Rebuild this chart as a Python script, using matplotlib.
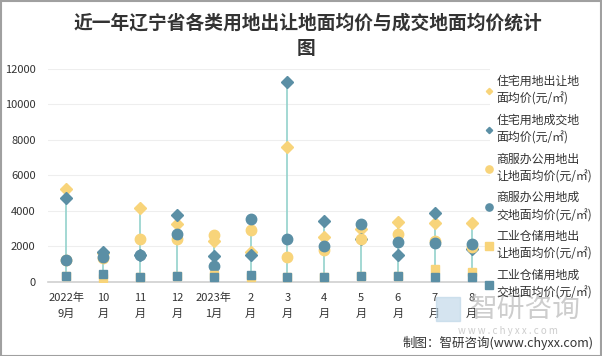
import matplotlib
matplotlib.use("Agg")
import matplotlib.pyplot as plt
from matplotlib.lines import Line2D
import numpy as np

plt.rcParams['font.family'] = ['Noto Sans CJK SC', 'DejaVu Sans']

categories = ["2022年\n9月", "10\n月", "11\n月", "12\n月", "2023年\n1月", "2\n月", "3\n月",
              "4\n月", "5\n月", "6\n月", "7\n月", "8\n月"]

res_transfer = [5250, 1600, 4180, 3260, 2300, 1660, 7610, 2540, 2980, 3370, 3320, 3320]
res_deal = [4730, 1700, 1480, 3790, 1470, 1520, 11280, 3430, 2400, 1520, 3880, 1860]
com_transfer = [1200, 1320, 2400, 2430, 2620, 2900, 1380, 1810, 2400, 2680, 2300, 1960]
com_deal = [1210, 1410, 1490, 2710, 900, 3520, 2430, 2030, 3240, 2260, 2170, 2130]
ind_transfer = [300, 200, 260, 300, 380, 250, 250, 240, 320, 300, 730, 530]
ind_deal = [320, 450, 280, 320, 280, 380, 265, 265, 340, 320, 265, 280]

labels = ["住宅用地出让地\n面均价(元/㎡)", "住宅用地成交地\n面均价(元/㎡)",
          "商服办公用地出\n让地面均价(元/㎡)", "商服办公用地成\n交地面均价(元/㎡)",
          "工业仓储用地出\n让地面均价(元/㎡)", "工业仓储用地成\n交地面均价(元/㎡)"]

YEL = '#f8d47a'
BLU = '#5b8fa5'
LINE = '#93d2cc'

fig = plt.figure(figsize=(6.02, 3.56), dpi=100)
ax = fig.add_axes([48/602, 1-281.7/356, (490-48)/602, (281.7-69)/356])

x = np.arange(len(categories))
allv = np.array([res_transfer, res_deal, com_transfer, com_deal, ind_transfer, ind_deal])
ax.vlines(x, allv.min(axis=0), allv.max(axis=0), color=LINE, lw=1.2, zorder=1)

series = [
    (res_transfer, YEL, 'D', 6),
    (res_deal, BLU, 'D', 6),
    (com_transfer, YEL, 'o', 7.5),
    (com_deal, BLU, 'o', 7.5),
    (ind_transfer, YEL, 's', 6.2),
    (ind_deal, BLU, 's', 6.2),
]
handles = []
for (vals, c, m, s), lab in zip(series, labels):
    ax.plot(x, vals, linestyle='none', marker=m, ms=s, color=c, mec=c, zorder=3)
    hs = {'D': 3.2, 'o': 5.2, 's': 5.2}[m]
    handles.append(Line2D([], [], linestyle='none', marker=m, ms=hs, color=c, mec=c))

ax.set_xlim(-0.5, len(categories) - 0.5)
ax.set_ylim(0, 12000)
ax.set_yticks(np.arange(0, 12001, 2000))
ax.set_xticks(x)
ax.set_xticklabels(categories, fontsize=8, color='#333333', linespacing=1.75)
ax.tick_params(axis='y', labelsize=8, colors='#333333', length=0, pad=9)
ax.tick_params(axis='x', length=0, pad=8)
ax.grid(axis='y', color='#eeeeee', lw=0.8)
ax.set_axisbelow(True)
for sp in ['top', 'right', 'left']:
    ax.spines[sp].set_visible(False)
ax.spines['bottom'].set_color('#d0d0d0')
ax.spines['bottom'].set_linewidth(1.2)

leg = fig.legend(handles, labels, loc='upper left', bbox_to_anchor=(481/602, 1-70/356),
                 frameon=False, fontsize=8.6, handlelength=0.6, handletextpad=0.3,
                 labelspacing=0.67, borderaxespad=0, labelcolor='#333333')
for t in leg.get_texts():
    t.set_linespacing(1.45)

fig.text(308/602, 1-23/356, "近一年辽宁省各类用地出让地面均价与成交地面均价统计", ha='center', va='center',
         fontsize=13.5, fontweight='bold', color='#333333')
fig.text(306/602, 1-48/356, "图", ha='center', va='center', fontsize=13.5, fontweight='bold', color='#333333')

# watermark
fig.text(525/602, 1-309/356, "智研咨询", ha='center', va='center', fontsize=20, color='#b8b8b8', alpha=0.7)
fig.text(508/602, 1-331/356, "w w w . c h y x x . c o m", ha='center', va='center', fontsize=7, color='#c0c0c0', alpha=0.8)
fig.patches.append(plt.Rectangle((436/602, 1-321/356), 24/602, 24/356, transform=fig.transFigure,
                                 color='#b9d3e6', alpha=0.6, zorder=0))

fig.text(594/602, 1-343/356, "制图：智研咨询(www.chyxx.com)", ha='right', va='center', fontsize=9, color='#333333')

fig.patches.append(plt.Rectangle((0.5/602, 0.5/356), 1-1.5/602, 1-1.5/356, transform=fig.transFigure,
                                 fill=False, ec='#a0a0a0', lw=1.5, zorder=10))

fig.savefig("out.png", dpi=100)
